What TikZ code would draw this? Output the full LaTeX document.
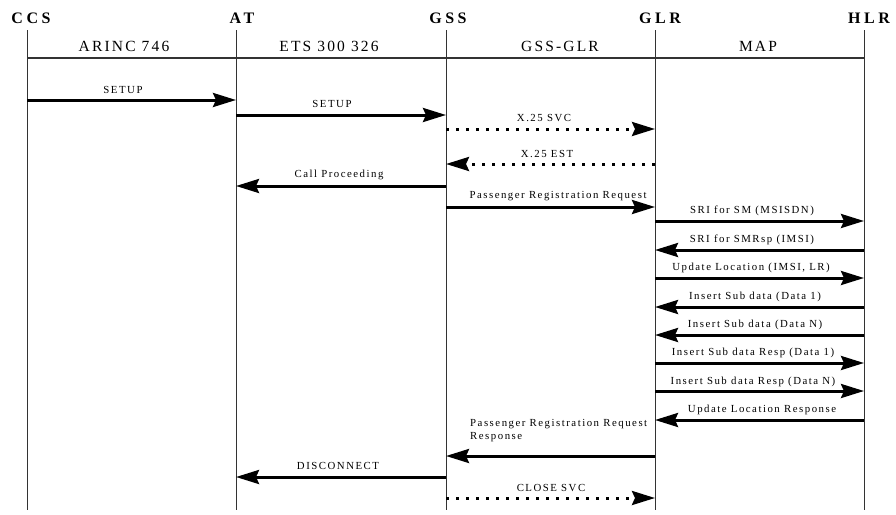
\documentclass[tikz,border=0pt]{standalone}
\usepackage{fontspec}
\setmainfont{Liberation Serif}
\newfontfamily\spacedfont[LetterSpace=14]{Liberation Serif}
\newfontfamily\headfont[LetterSpace=22]{Liberation Serif}
\usetikzlibrary{arrows.meta}
\tikzset{
  entity/.style={font=\headfont\bfseries\fontsize{16}{18}\selectfont, inner sep=0pt},
  proto/.style={font=\spacedfont\fontsize{15.5}{18}\selectfont, inner sep=0pt},
  lbl/.style={font=\spacedfont\fontsize{10.8}{13}\selectfont, inner sep=0pt},
  lifeline/.style={line width=1pt, black!80},
  msg/.style={line width=3pt, -{Stealth[length=23pt,width=14pt,inset=3pt]}},
  dotmsg/.style={msg, dash pattern=on 3pt off 7pt},
}
\newcommand\msgline[4]{% style, from lifeline, to lifeline, y
  \draw[#1] (#2 |- 0,#4) -- (#3 |- 0,#4);}
\begin{document}
\begin{tikzpicture}[x=1pt,y=-1pt]
\useasboundingbox (0,0) rectangle (896,514);

% entity names
\node[entity] (hccs) at (31,18) {CCS};
\node[entity] (hat)  at (242,18) {AT};
\node[entity] (hgss) at (448,18) {GSS};
\node[entity] (hglr) at (660,18) {GLR};
\node[entity] (hhlr) at (869,18) {HLR};

% lifelines
\coordinate (CCS) at (27,30);  \coordinate (CCSe) at (27,510);
\coordinate (AT)  at (236,30); \coordinate (ATe)  at (236,510);
\coordinate (GSS) at (446,30); \coordinate (GSSe) at (446,510);
\coordinate (GLR) at (655,30); \coordinate (GLRe) at (655,510);
\coordinate (HLR) at (864,30); \coordinate (HLRe) at (864,510);
\foreach \l in {CCS,AT,GSS,GLR,HLR} \draw[lifeline] (\l) -- (\l e);

% protocol band
\draw[line width=1.3pt, black!80] (CCS |- 0,58) -- (HLR |- 0,58);
\node[proto] (p1) at (124,46) {ARINC 746};
\node[proto] (p2) at (329,46) {ETS 300 326};
\node[proto] (p3) at (560,46) {GSS-GLR};
\node[proto] (p4) at (758,46) {MAP};

% messages
\msgline{msg}{CCS}{AT}{100}
\node[lbl] (m1) at (123,90) {SETUP};
\msgline{msg}{AT}{GSS}{115}
\node[lbl] (m2) at (332,104) {SETUP};
\msgline{dotmsg}{GSS}{GLR}{129}
\node[lbl] (m3) at (544,118) {X.25 SVC};
\msgline{dotmsg}{GLR}{GSS}{164}
\node[lbl] (m4) at (547,154) {X.25 EST};
\msgline{msg}{GSS}{AT}{186}
\node[lbl] (m5) at (339,175) {Call Proceeding};
\msgline{msg}{GSS}{GLR}{207}
\node[lbl] (m6) at (558,196) {Passenger Registration Request};
\msgline{msg}{GLR}{HLR}{221}
\node[lbl] (m7) at (752,211) {SRI for SM (MSISDN)};
\msgline{msg}{HLR}{GLR}{250}
\node[lbl] (m8) at (752,240) {SRI for SMRsp (IMSI)};
\msgline{msg}{GLR}{HLR}{278}
\node[lbl] (m9) at (751,268) {Update Location (IMSI, LR)};
\msgline{msg}{HLR}{GLR}{307}
\node[lbl] (m10) at (755,297) {Insert Sub data (Data 1)};
\msgline{msg}{HLR}{GLR}{335}
\node[lbl] (m11) at (755,325) {Insert Sub data (Data N)};
\msgline{msg}{GLR}{HLR}{363}
\node[lbl] (m12) at (753,353) {Insert Sub data Resp (Data 1)};
\msgline{msg}{GLR}{HLR}{391}
\node[lbl] (m13) at (753,382) {Insert Sub data Resp (Data N)};
\msgline{msg}{HLR}{GLR}{420}
\node[lbl] (m14) at (762,410) {Update Location Response};
\msgline{msg}{GLR}{GSS}{456}
\node[lbl, anchor=west, align=left] (m15) at (470,431) {Passenger Registration Request\\Response};
\msgline{msg}{GSS}{AT}{477}
\node[lbl] (m16) at (338,466) {DISCONNECT};
\msgline{dotmsg}{GSS}{GLR}{498}
\node[lbl] (m17) at (551,488) {CLOSE\ SVC};
\end{tikzpicture}
\end{document}
